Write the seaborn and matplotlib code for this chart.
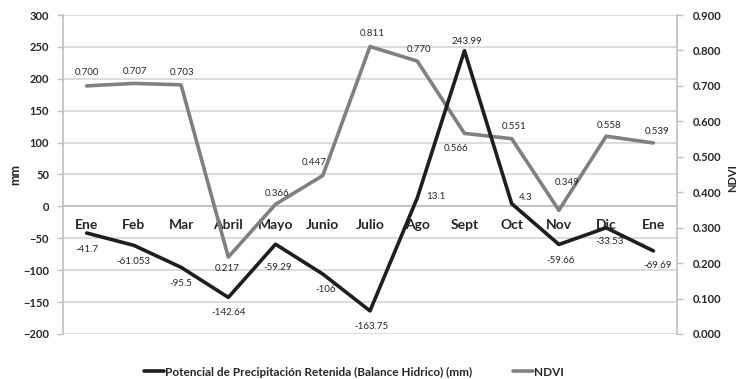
import matplotlib
matplotlib.use("Agg")
import matplotlib.pyplot as plt
import numpy as np
import pandas as pd
import seaborn as sns
from matplotlib.lines import Line2D
from matplotlib.ticker import FixedLocator, FuncFormatter

# --- data -------------------------------------------------------------
months = ["Ene", "Feb", "Mar", "Abril", "Mayo", "Junio", "Julio",
          "Ago", "Sept", "Oct", "Nov", "Dic", "Ene"]
balance_mm = [-41.7, -61.053, -95.5, -142.64, -59.29, -106, -163.75,
              13.1, 243.99, 4.3, -59.66, -33.53, -69.69]
balance_text = ["-41.7", "-61.053", "-95.5", "-142.64", "-59.29", "-106",
                "-163.75", "13.1", "243.99", "4.3", "-59.66", "-33.53",
                "-69.69"]
ndvi = [0.700, 0.707, 0.703, 0.217, 0.366, 0.447, 0.811, 0.770, 0.566,
        0.551, 0.349, 0.558, 0.539]
mm_ticks = [-200, -150, -100, -50, 0, 50, 100, 150, 200, 250, 300]
ndvi_ticks = [0.0, 0.1, 0.2, 0.3, 0.4, 0.5, 0.6, 0.7, 0.8, 0.9]
balance_name = "Potencial de Precipitación Retenida (Balance Hidrico) (mm)"
ndvi_name = "NDVI"

# label offsets (pixels) for the data labels of each series
mm_off = [(0, -16), (0, -16), (0, -16), (0, -15), (2, -23), (3, -15),
          (1, -16), (19, 2), (2, 9), (14, 6), (2, -16), (3, -14), (4, -15)]
ndvi_off = [(0, 13), (1, 12), (1, 12), (-1, -11), (2, 11), (-9, 13),
            (2, 13), (2, 12), (-8, -15), (2, 12), (8, 28), (3, 11), (4, 11)]

sns.set_theme(style="white")
plt.rcParams["font.family"] = ["Lato", "DejaVu Sans"]

BLACK = "#1e1e1e"
GRAY = "#808080"
TXT = "#262626"
AXC = "#bfbfbf"

df = pd.DataFrame({"pos": np.arange(len(months)),
                   "mm": balance_mm, "ndvi": ndvi})

W, H = 741, 379
fig = plt.figure(figsize=(W / 100, H / 100), dpi=100)
rect = [63 / W, 1 - 334 / H, (677 - 63) / W, (334 - 15) / H]
ax = fig.add_axes(rect)
ax2 = ax.twinx()
ax3 = fig.add_axes(rect, sharex=ax, sharey=ax)

# NDVI on the secondary axis, balance drawn on top
sns.lineplot(data=df, x="pos", y="ndvi", ax=ax2, color=GRAY, lw=2.6)
sns.lineplot(data=df, x="pos", y="mm", ax=ax3, color=BLACK, lw=2.6)

ax.set_xlim(-0.5, len(months) - 0.5)
ax.set_ylim(-200, 300)
ax2.set_ylim(0, 0.9)

# primary axis styling
ax.set_yticks(mm_ticks)
ax.yaxis.grid(True, color="#d9d9d9", lw=1.3)
ax.set_axisbelow(True)
for s in ["top", "right"]:
    ax.spines[s].set_visible(False)
ax.spines["left"].set_color(AXC)
ax.spines["left"].set_linewidth(1.2)
ax.spines["bottom"].set_position(("data", 0))
ax.spines["bottom"].set_color(AXC)
ax.spines["bottom"].set_linewidth(1.2)
ax.set_xticks(df["pos"])
ax.set_xticklabels(months)
ax.xaxis.set_minor_locator(FixedLocator(np.arange(-0.5, len(months), 1.0)))
ax.tick_params(axis="x", which="major", length=0, pad=9, labelsize=10,
               labelcolor=TXT)
ax.tick_params(axis="x", which="minor", length=4, width=1, color=AXC,
               direction="out")
for t in ax.get_xticklabels():
    t.set_fontweight("bold")
ax.tick_params(axis="y", length=4, width=1, color=AXC, direction="out",
               pad=6, labelsize=8, labelcolor=TXT)
for t in ax.get_yticklabels():
    t.set_fontweight("bold")
ax.set_xlabel("")
ax.set_ylabel("")

# secondary axis styling
ax2.set_yticks(ndvi_ticks)
ax2.yaxis.set_major_formatter(FuncFormatter(lambda v, p: f"{v:.3f}"))
for s in ["top", "left", "bottom"]:
    ax2.spines[s].set_visible(False)
ax2.spines["right"].set_color(AXC)
ax2.spines["right"].set_linewidth(1.2)
ax2.tick_params(axis="y", length=4, width=1, color=AXC, direction="out",
                pad=7, labelsize=8, labelcolor=TXT)
for t in ax2.get_yticklabels():
    t.set_fontweight("bold")
ax2.set_ylabel("")
ax2.grid(False)

ax3.axis("off")
ax3.patch.set_visible(False)

# data labels
for x, v, s, off in zip(df["pos"], balance_mm, balance_text, mm_off):
    ax3.annotate(s, (x, v), xytext=off, textcoords="offset pixels",
                 ha="center", va="center", fontsize=7, color=TXT)
for x, v, off in zip(df["pos"], ndvi, ndvi_off):
    ax2.annotate(f"{v:.3f}", (x, v), xytext=off, textcoords="offset pixels",
                 ha="center", va="center", fontsize=7, color=TXT)

# axis titles
fig.text(15 / W, 1 - 175 / H, "mm", rotation=90, ha="center", va="center",
         fontsize=9, fontweight="bold", color=TXT)
fig.text(733 / W, 1 - 178 / H, "NDVI", rotation=90, ha="center",
         va="center", fontsize=8, fontweight="bold", color=TXT)

handles = [Line2D([], [], color=BLACK, lw=2.6),
           Line2D([], [], color=GRAY, lw=2.6)]
leg = fig.legend(handles, [balance_name, ndvi_name], loc="center",
                 bbox_to_anchor=(354 / W, 1 - 372 / H), ncol=2,
                 frameon=False, handlelength=1.7, handletextpad=0.1,
                 columnspacing=3.4, fontsize=8.5, labelcolor=TXT)
for t in leg.get_texts():
    t.set_fontweight("bold")

fig.savefig("out.png", dpi=100)
